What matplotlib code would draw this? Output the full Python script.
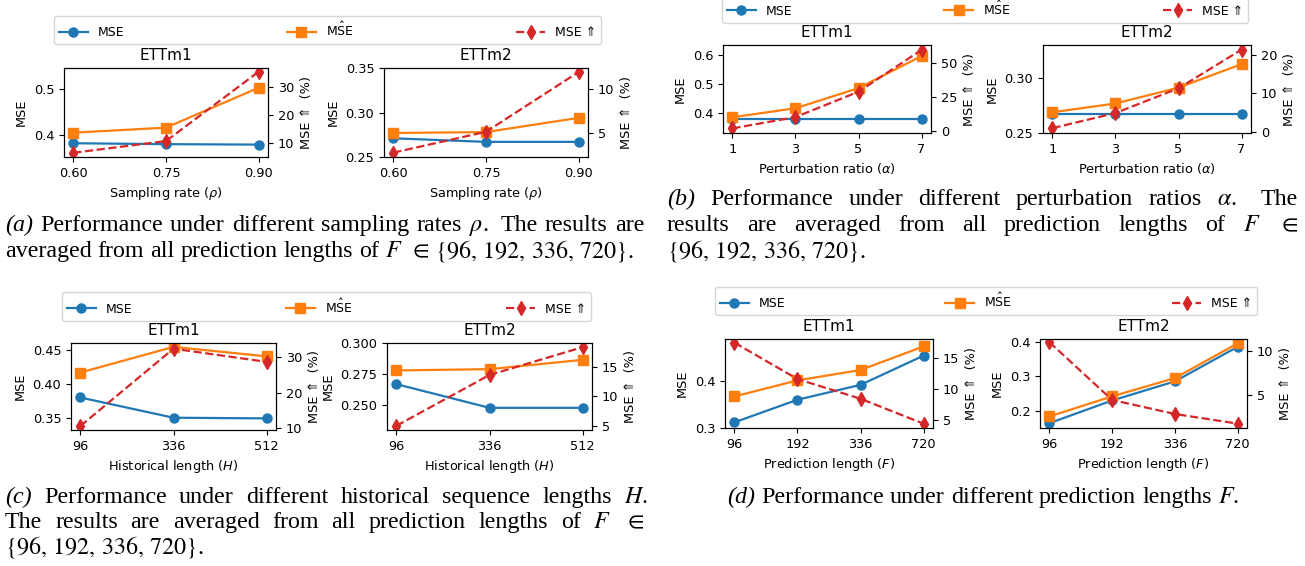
import matplotlib
matplotlib.use('Agg')
import matplotlib.pyplot as plt

# ---- data ----
sampling_x = ['0.60', '0.75', '0.90']
a_m1_mse = [0.382, 0.380, 0.379]
a_m1_mse_hat = [0.405, 0.416, 0.503]
a_m1_up = [6.4, 10.6, 35.4]
a_m2_mse = [0.271, 0.267, 0.267]
a_m2_mse_hat = [0.277, 0.278, 0.294]
a_m2_up = [2.7, 5.1, 12.0]

ratio_x = ['1', '3', '5', '7']
b_m1_mse = [0.380, 0.380, 0.380, 0.380]
b_m1_mse_hat = [0.385, 0.416, 0.485, 0.595]
b_m1_up = [2.2, 10.5, 29.2, 60.0]
b_m2_mse = [0.267, 0.267, 0.267, 0.267]
b_m2_mse_hat = [0.269, 0.277, 0.2915, 0.313]
b_m2_up = [1.0, 4.9, 11.3, 21.3]

hist_x = ['96', '336', '512']
c_m1_mse = [0.380, 0.350, 0.349]
c_m1_mse_hat = [0.417, 0.455, 0.441]
c_m1_up = [10.6, 32.3, 28.6]
c_m2_mse = [0.267, 0.248, 0.248]
c_m2_mse_hat = [0.278, 0.279, 0.2865]
c_m2_up = [5.0, 13.6, 18.3]

pred_x = ['96', '192', '336', '720']
d_m1_mse = [0.312, 0.360, 0.3915, 0.4535]
d_m1_mse_hat = [0.367, 0.401, 0.423, 0.473]
d_m1_up = [17.5, 11.6, 8.4, 4.35]
d_m2_mse = [0.164, 0.230, 0.2855, 0.386]
d_m2_mse_hat = [0.1835, 0.242, 0.295, 0.396]
d_m2_up = [11.0, 4.4, 2.8, 1.7]

W, H = 1305, 566
fig = plt.figure(figsize=(W / 100, H / 100), dpi=100)

plt.rcParams['xtick.labelsize'] = 9.3
plt.rcParams['ytick.labelsize'] = 9.3


def rect(l, r, t, b):
    return [l / W, 1 - b / H, (r - l) / W, (b - t) / H]


def panel(box, xt, mse, mse_hat, up, title, xlabel, ylim, yticks, ylim2, yticks2):
    ax = fig.add_axes(rect(*box))
    x = list(range(len(xt)))
    l1, = ax.plot(x, mse, color='tab:blue', marker='o', ms=6.5, lw=1.6, label='MSE')
    l2, = ax.plot(x, mse_hat, color='tab:orange', marker='s', ms=6.5, lw=1.6,
                  label=r'M$\hat{\rm S}$E')
    ax.set_xticks(x)
    ax.set_xticklabels(xt)
    ax.set_ylim(ylim)
    ax.set_yticks(yticks)
    ax.set_ylabel('MSE', fontsize=9.3)
    ax.set_xlabel(xlabel, fontsize=9.3)
    ax.set_title(title, fontsize=11)
    ax2 = ax.twinx()
    l3, = ax2.plot(x, up, color='tab:red', marker='d', ms=7, lw=1.6, ls='--', label='MSE ⇑')
    ax2.set_ylim(ylim2)
    ax2.set_yticks(yticks2)
    ax2.set_ylabel('MSE ⇑  (%)', fontsize=9.3)
    return [l1, l2, l3]


def legend(handles, x0, x1, y0, y1):
    fig.legend(handles, [h.get_label() for h in handles], loc='center',
               bbox_to_anchor=(x0 / W, 1 - y1 / H, (x1 - x0) / W, (y1 - y0) / H),
               bbox_transform=fig.transFigure, mode='expand', ncol=3,
               borderaxespad=0, fontsize=9, handlelength=2.3)


rho = r'Sampling rate ($\rho$)'
alpha = r'Perturbation ratio ($\alpha$)'
hlab = r'Historical length ($H$)'
flab = r'Prediction length ($F$)'

h = panel((64, 268, 68, 157), sampling_x, a_m1_mse, a_m1_mse_hat, a_m1_up, 'ETTm1', rho,
          (0.352, 0.546), [0.4, 0.5], (4.9, 36.7), [10, 20, 30])
panel((384, 588, 68, 157), sampling_x, a_m2_mse, a_m2_mse_hat, a_m2_up, 'ETTm2', rho,
      (0.25, 0.35), [0.25, 0.30, 0.35], (2.2, 12.45), [5, 10])
legend(h, 54, 601, 19, 41)

h = panel((723, 931, 45, 133), ratio_x, b_m1_mse, b_m1_mse_hat, b_m1_up, 'ETTm1', alpha,
          (0.331, 0.633), [0.4, 0.5, 0.6], (-1.2, 63.6), [0, 25, 50])
panel((1043, 1251, 45, 133), ratio_x, b_m2_mse, b_m2_mse_hat, b_m2_up, 'ETTm2', alpha,
      (0.25, 0.3305), [0.25, 0.30], (-0.26, 22.5), [0, 10, 20])
legend(h, 722, 1248, -2, 19.5)

h = panel((71, 276, 343, 430), hist_x, c_m1_mse, c_m1_mse_hat, c_m1_up, 'ETTm1', hlab,
          (0.3318, 0.4608), [0.35, 0.40, 0.45], (9.5, 33.9), [10, 20, 30])
panel((387, 592, 343, 430), hist_x, c_m2_mse, c_m2_mse_hat, c_m2_up, 'ETTm2', hlab,
      (0.2302, 0.300), [0.250, 0.275, 0.300], (4.3, 19.0), [5, 10, 15])
legend(h, 62, 591, 296, 317)

h = panel((725, 933, 339, 428), pred_x, d_m1_mse, d_m1_mse_hat, d_m1_up, 'ETTm1', flab,
          (0.30, 0.4888), [0.3, 0.4], (3.65, 18.1), [5, 10, 15])
panel((1040, 1247, 339, 428), pred_x, d_m2_mse, d_m2_mse_hat, d_m2_up, 'ETTm2', flab,
      (0.15, 0.4087), [0.2, 0.3, 0.4], (1.2, 11.36), [5, 10])
legend(h, 715, 1257, 290, 312)

# ---- captions (Times-like serif, justified like the paper) ----
renderer = fig.canvas.get_renderer()
CAP_SIZE = 17.3
CAP = dict(fontfamily='Liberation Serif', fontsize=CAP_SIZE, math_fontfamily='stix', va='baseline')
SPACE = 0.25 * CAP_SIZE * 100 / 72


def cap_line(words, x0, y, x1=None, center=None):
    texts = []
    for w in words:
        style = 'normal'
        if isinstance(w, tuple):
            w, style = w
        texts.append(fig.text(0, 1 - y / H, w, fontstyle=style, **CAP))
    widths = [t.get_window_extent(renderer).width for t in texts]
    weights = [1.6 if words[i][-1] == '.' else 1.0 for i in range(len(words) - 1)]
    gap = SPACE
    if x1 is not None:
        gap = (x1 - x0 - sum(widths)) / sum(weights)
    if center is not None:
        x0 = center - (sum(widths) + gap * sum(weights)) / 2
    x = x0
    for i, (t, wd) in enumerate(zip(texts, widths)):
        t.set_x(x / W)
        x += wd + (gap * weights[i] if i < len(weights) else 0)


nums = r'$\{96,\,192,\,336,\,720\}$.'
cap_line([('(a)', 'italic'), 'Performance', 'under', 'different', 'sampling', 'rates',
          r'$\rho$.', 'The', 'results', 'are'], 5, 231, x1=644)
cap_line(['averaged', 'from', 'all', 'prediction', 'lengths', 'of', r'$F$', r'$\in$', nums], 5, 257)

cap_line([('(b)', 'italic'), 'Performance', 'under', 'different', 'perturbation', 'ratios',
          r'$\alpha$.', 'The'], 667, 205, x1=1298)
cap_line(['results', 'are', 'averaged', 'from', 'all', 'prediction', 'lengths', 'of',
          r'$F$', r'$\in$'], 667, 231, x1=1298)
cap_line([nums], 667, 257)

cap_line([('(c)', 'italic'), 'Performance', 'under', 'different', 'historical', 'sequence',
          'lengths', r'$H$.'], 5, 503, x1=648)
cap_line(['The', 'results', 'are', 'averaged', 'from', 'all', 'prediction', 'lengths', 'of',
          r'$F$', r'$\in$'], 5, 528, x1=644)
cap_line([nums], 5, 554)

cap_line([('(d)', 'italic'), 'Performance', 'under', 'different', 'prediction', 'lengths',
          r'$F$.'], 0, 503, center=983)

fig.savefig('out.png', dpi=100)
